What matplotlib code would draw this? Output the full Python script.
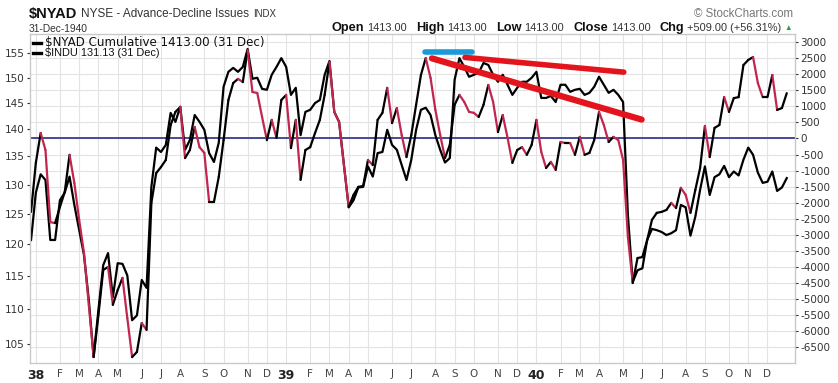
import numpy as np
import pandas as pd
import matplotlib
matplotlib.use("Agg")
import matplotlib.pyplot as plt
import matplotlib.dates as mdates
from matplotlib.collections import LineCollection
from matplotlib.lines import Line2D
from matplotlib.ticker import NullLocator

# cierres semanales, semana del 27-Dic-1937 hasta semana del 30-Dic-1940
fechas = pd.date_range("1937-12-27", periods=158, freq="7D")

# $INDU (escala izquierda, logaritmica)
indu = [120.7, 128.6, 131.8, 130.8, 120.7, 120.7, 127.3, 128.6, 131.4, 126.5,
        122.3, 118.3, 111.4, 103.2, 109.9, 116.7, 118.6, 111.8, 117.0, 116.9,
        115.1, 108.4, 109.1, 114.4, 113.2, 129.6, 136.6, 135.8, 137.1, 143.1,
        141.4, 144.3, 136.2, 138.0, 142.7, 141.4, 139.9, 135.6, 134.0, 137.5,
        148.2, 151.2, 152.0, 151.2, 152.2, 155.9, 149.8, 150.0, 147.8, 147.6,
        150.6, 152.2, 154.0, 152.2, 146.6, 148.0, 138.9, 143.3, 143.7, 145.0,
        145.6, 150.6, 153.4, 143.3, 141.4, 133.5, 126.1, 127.3, 129.5, 129.6,
        133.2, 131.4, 135.6, 135.8, 139.9, 137.1, 136.2, 133.5, 130.8, 134.4,
        139.9, 143.7, 144.1, 142.7, 138.9, 136.2, 133.9, 134.7, 149.6, 154.0,
        152.2, 150.2, 150.6, 151.0, 153.0, 152.6, 150.6, 149.2, 150.6, 148.6,
        146.6, 148.0, 149.2, 149.2, 150.0, 151.2, 146.0, 146.0, 146.4, 145.2,
        148.6, 148.6, 147.2, 147.6, 147.8, 146.6, 147.0, 148.2, 150.2, 148.6,
        147.0, 147.6, 146.6, 145.2, 124.8, 114.1, 115.9, 116.2, 120.7, 122.5,
        122.3, 122.0, 121.5, 121.8, 122.3, 126.5, 126.1, 121.4, 124.5, 129.1,
        133.2, 128.2, 131.3, 131.8, 133.3, 131.3, 132.3, 131.6, 134.4, 136.6,
        135.3, 132.1, 130.3, 130.5, 132.3, 128.9, 129.5, 131.13]

# $NYAD acumulado (escala derecha)
nyad = [-2290, -760, 170, -360, -2610, -2640, -2140, -1670, -510, -1390,
        -2540, -3570, -5190, -6820, -5510, -4100, -4010, -5190, -4730, -4350,
        -5600, -6820, -6660, -5760, -5970, -2010, -1080, -890, -670, 420,
        830, 980, -610, -360, 360, -270, -450, -1980, -1980, -1200,
        -50, 1200, 1730, 1860, 1760, 2760, 1450, 1420, 670, -50,
        580, 20, 1200, 1360, -300, 580, -1290, -360, -270, 170,
        580, 1360, 2390, 830, 510, -830, -2140, -1760, -1510, -1480,
        -670, -830, 580, 800, 1580, 480, 950, 110, -580, 110,
        1050, 1980, 2510, 1890, 890, 110, -610, -200, 1050, 1360,
        1140, 830, 800, 670, 1050, 1670, 1140, 200, 730, 20,
        -760, -360, -270, -510, -200, 580, -420, -920, -730, -980,
        -110, -140, -140, -510, 50, -510, -450, -50, 830, 420,
        -110, 50, -50, -670, -3070, -4510, -3730, -3700, -3170, -2540,
        -2320, -2290, -2230, -2010, -2170, -1540, -1760, -2320, -1610, -920,
        390, -580, 330, 420, 1290, 830, 1260, 1290, 2290, 2450,
        2540, 1730, 1290, 1290, 1980, 890, 950, 1413]

ticks_indu = [105, 110, 115, 120, 125, 130, 135, 140, 145, 150, 155]
ticks_nyad = list(range(-6500, 3001, 500))

# lineas dibujadas a mano encima del grafico (fechas y valores NYAD)
marca_azul = (["1939-07-23", "1939-09-29"], [2690, 2690])
tendencia_1 = (["1939-09-19", "1940-05-07"], [2530, 2070])
tendencia_2 = (["1939-08-02", "1940-06-02"], [2500, 590])

W, H = 838, 383
CARMIN = "#c0264e"
GRIS_TXT = "#333333"

fig = plt.figure(figsize=(W / 100, H / 100), dpi=100)
ax = fig.add_axes([30 / W, 20 / H, 765 / W, 329 / H])
ax_indu = ax.twinx()
ax_nyad = ax.twinx()

xs = mdates.date2num(fechas)
ax.set_xlim(mdates.date2num(pd.Timestamp("1937-12-25 12:00")),
            mdates.date2num(pd.Timestamp("1941-01-11")))

# rejilla y eje derecho
ax.set_ylim(-7005, 3260)
ax_nyad.set_ylim(-7005, 3260)
ax.yaxis.tick_right()
ax.set_yticks(ticks_nyad, [str(t) for t in ticks_nyad])
ax.tick_params(axis="y", right=True, left=False, labelright=True, labelleft=False,
               labelsize=7.5, length=2, pad=2, colors=GRIS_TXT)
ax.grid(True, color="#e3e3e3", lw=0.8)
ax.set_axisbelow(True)
ax.axhline(0, color="#3b3b8f", lw=1.3, zorder=1)

# meses
s = pd.Series(fechas[fechas >= "1938-01-01"])
primeras = s.groupby([s.dt.year, s.dt.month]).first()
letras = "JFMAMJJASOND"
etiquetas = [f"{d.year % 100:02d}" if d.month == 1 else letras[d.month - 1] for d in primeras]
ax.set_xticks(mdates.date2num(primeras), etiquetas)
ax.tick_params(axis="x", length=0, pad=4, labelsize=7.5, colors="#444444")
for lbl, d in zip(ax.get_xticklabels(), primeras):
    if d.month == 1:
        lbl.set_fontweight("bold")
        lbl.set_fontsize(9)
        lbl.set_color("#222222")

# eje izquierdo INDU
ax_indu.set_yscale("log")
ax_indu.set_ylim(102.36, 159.06)
ax_indu.yaxis.tick_left()
ax_indu.set_yticks(ticks_indu, [str(t) for t in ticks_indu])
ax_indu.yaxis.set_minor_locator(NullLocator())
ax_indu.tick_params(axis="y", labelsize=7.5, length=2, pad=2, colors=GRIS_TXT)
ax_indu.plot(xs, indu, color="black", lw=1.6, solid_joinstyle="round")

# NYAD: rojo cuando baja, negro cuando sube
ax_nyad.tick_params(axis="y", right=False, labelright=False)
pts = np.column_stack([xs, nyad])
segs = np.stack([pts[:-1], pts[1:]], axis=1)
colores = np.where(np.diff(nyad) < 0, CARMIN, "black")
ax_nyad.add_collection(LineCollection(segs, colors=colores, linewidths=1.6,
                                      capstyle="round", joinstyle="round"))

for (fx, vy), col, lw in [(marca_azul, "#1b9ad8", 4), (tendencia_1, "#e3141c", 4),
                          (tendencia_2, "#e3141c", 4.5)]:
    ax_nyad.plot(mdates.date2num(pd.to_datetime(fx)), vy, color=col, lw=lw,
                 solid_capstyle="round")

for a in (ax, ax_indu, ax_nyad):
    for sp in a.spines.values():
        sp.set_color("#c8c8c8")
        sp.set_linewidth(0.8)
ax.spines["bottom"].set_linestyle((0, (2, 1)))

# leyenda (dos filas con tipos distintos, como en StockCharts)
leyenda = [(r"\$NYAD Cumulative 1413.00 (31 Dec)", "DejaVu Sans", 8.6, 42.5),
           (r"\$INDU 131.13 (31 Dec)", "Liberation Sans", 7.9, 53)]
for txt, fam, tam, y_px in leyenda:
    fig.add_artist(Line2D([33 / W, 41 / W], [1 - y_px / H] * 2, color="black", lw=2.4,
                          transform=fig.transFigure))
    fig.text(45 / W, 1 - y_px / H, txt, va="center", family=fam, size=tam, color="#111111")

# cabecera
fig.canvas.draw()
rend = fig.canvas.get_renderer()


def en_linea(piezas, x_px, y_px, derecha=False):
    textos = []
    for txt, kw, gap in piezas:
        t = fig.text(0, 1 - y_px / H, txt, va="center", family="Liberation Sans", **kw)
        textos.append((t, t.get_window_extent(rend).width, gap))
    total = sum(w + g for _, w, g in textos)
    x = x_px - total if derecha else x_px
    for t, w, g in textos:
        t.set_x(x / W)
        x += w + g


en_linea([(r"\$NYAD", dict(size=10.5, weight="bold", color="#111111"), 4),
          ("NYSE - Advance-Decline Issues", dict(size=8.5, color=GRIS_TXT), 4),
          ("INDX", dict(size=7, color=GRIS_TXT), 0)], 29, 14)
fig.text(29 / W, 1 - 29 / H, "31-Dec-1940", va="center", family="Liberation Sans",
         size=7.4, color=GRIS_TXT)

b = dict(size=9.2, weight="bold", color="#111111")
v = dict(size=7.9, color=GRIS_TXT)
en_linea([("Open", b, 3), ("1413.00", v, 9), ("High", b, 3), ("1413.00", v, 9),
          ("Low", b, 3), ("1413.00", v, 9), ("Close", b, 3), ("1413.00", v, 9),
          ("Chg", b, 3), ("+509.00 (+56.31%)", v, 3),
          ("▲", dict(size=5.5, color="#2e9b3e"), 0)], 792, 28, derecha=True)
fig.text(793 / W, 1 - 14 / H, "© StockCharts.com", ha="right", va="center",
         family="Liberation Sans", size=8.3, color="#777777")

fig.savefig("out.png", dpi=100)
